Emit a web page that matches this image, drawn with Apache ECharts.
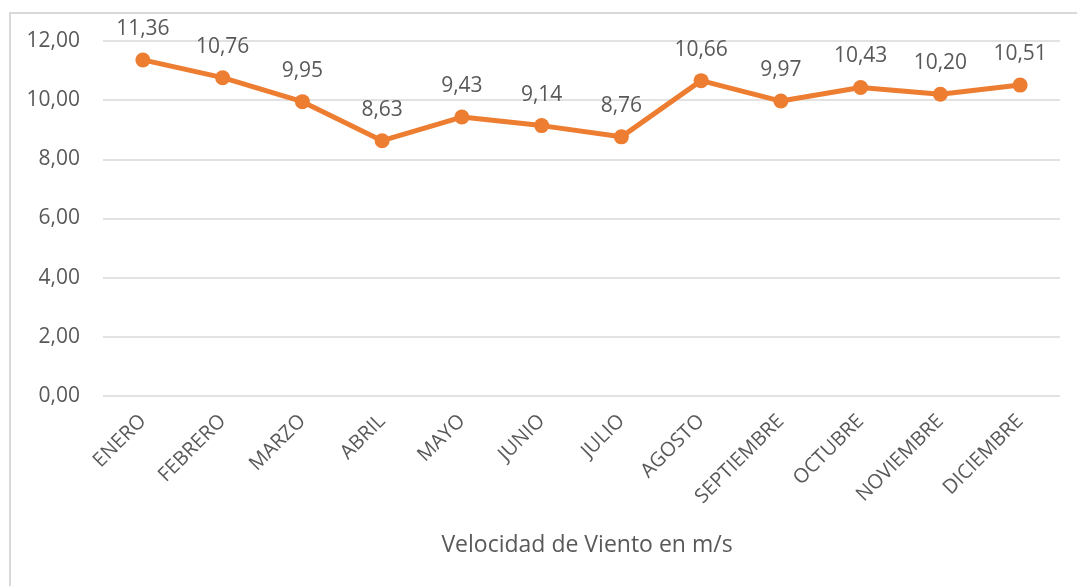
<!DOCTYPE html>
<html lang="es">

<head>
    <meta charset="UTF-8">
    <title>Velocidad de Viento</title>
    <script src="https://cdn.jsdelivr.net/npm/echarts@6/dist/echarts.min.js"></script>
    <style>
        html, body {
            margin: 0;
            padding: 0;
            background: #ffffff;
            overflow: hidden;
        }

        #frame {
            position: absolute;
            left: 9px;
            top: 12px;
            width: 1100px;
            height: 600px;
            border-left: 2px solid #d9d9d9;
            border-top: 2px solid #d9d9d9;
        }

        #main {
            position: absolute;
            left: 0;
            top: 0;
            width: 1077px;
            height: 586px;
        }
    </style>
</head>

<body>
    <div id="frame"></div>
    <div id="main"></div>

    <script>
        // datos del grafico
        var meses = ['ENERO', 'FEBRERO', 'MARZO', 'ABRIL', 'MAYO', 'JUNIO', 'JULIO',
            'AGOSTO', 'SEPTIEMBRE', 'OCTUBRE', 'NOVIEMBRE', 'DICIEMBRE'];
        var velocidad = [11.36, 10.76, 9.95, 8.63, 9.43, 9.14, 8.76, 10.66, 9.97, 10.43, 10.20, 10.51];
        var titulo = 'Velocidad de Viento en m/s';

        var fuente = '"Open Sans", "Noto Sans", sans-serif';
        var gris = '#595959';

        function coma(v) {
            return Number(v).toFixed(2).replace('.', ',');
        }

        var myChart = echarts.init(document.getElementById('main'), null, { renderer: 'canvas' });

        myChart.setOption({
            animation: false,
            backgroundColor: 'transparent',
            title: {
                text: titulo,
                left: 582,
                textAlign: 'center',
                top: 529,
                textStyle: {
                    fontFamily: fuente,
                    fontSize: 23,
                    fontWeight: 'normal',
                    color: gris
                }
            },
            grid: {
                left: 103,
                right: 17,
                top: 41,
                bottom: 190,
                containLabel: false
            },
            xAxis: {
                type: 'category',
                data: meses,
                boundaryGap: true,
                axisLine: { show: false },
                axisTick: { show: false },
                axisLabel: {
                    rotate: 45,
                    margin: 22,
                    interval: 0,
                    fontFamily: fuente,
                    fontSize: 20,
                    color: gris
                }
            },
            yAxis: {
                type: 'value',
                min: 0,
                max: 12,
                interval: 2,
                axisLine: { show: false },
                axisTick: { show: false },
                splitLine: { lineStyle: { color: '#d9d9d9', width: 1.5 } },
                axisLabel: {
                    margin: 23,
                    formatter: coma,
                    fontFamily: fuente,
                    fontSize: 21,
                    color: gris
                }
            },
            series: [{
                name: titulo,
                type: 'line',
                data: velocidad,
                symbol: 'circle',
                symbolSize: 15,
                lineStyle: { color: '#ed7d31', width: 5 },
                itemStyle: { color: '#ed7d31' },
                label: {
                    show: true,
                    position: 'top',
                    distance: 13,
                    formatter: function (p) { return coma(p.value); },
                    fontFamily: fuente,
                    fontSize: 21,
                    color: gris
                }
            }]
        });
    </script>
</body>

</html>
